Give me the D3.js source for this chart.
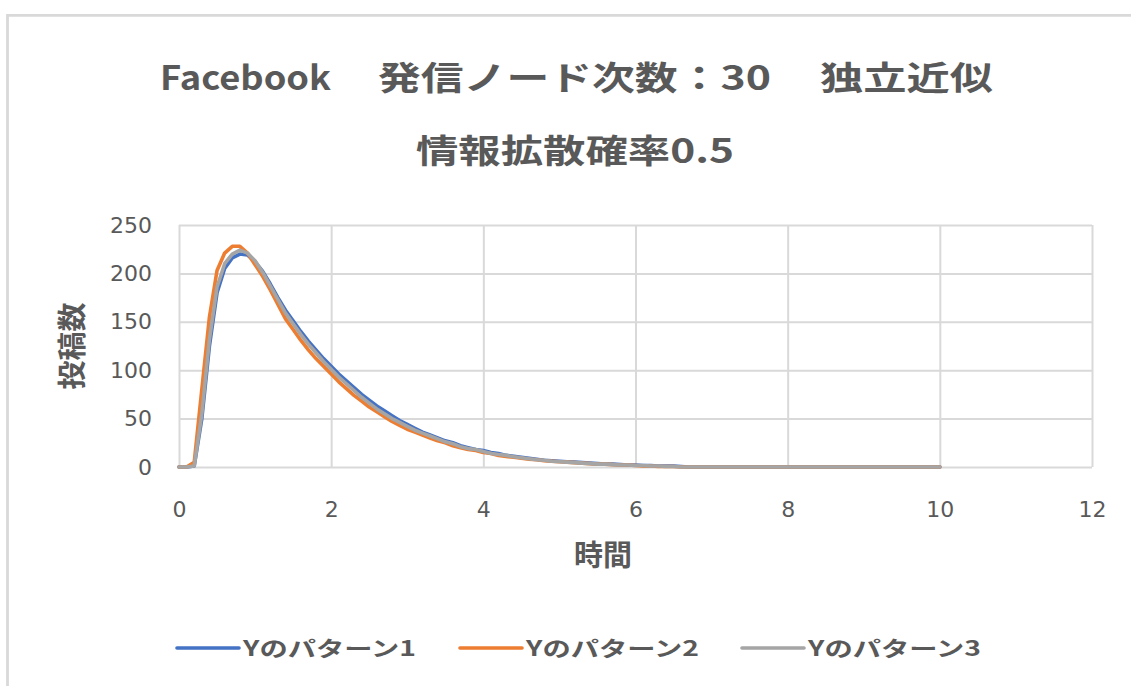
<!DOCTYPE html>
<html>
<head>
<meta charset="utf-8">
<script src="https://cdn.jsdelivr.net/npm/d3@7"></script>
<style>
  body { margin: 0; background: #fff; }
  svg { display: block; }
</style>
</head>
<body>
<svg id="chart"></svg>
<script>
// chart values (time step 0.1)
const times = [0,0.1,0.2,0.3,0.4,0.5,0.6,0.7,0.8,0.9,1,1.1,1.2,1.3,1.4,1.5,1.6,1.7,1.8,1.9,2,2.1,2.2,2.3,2.4,2.5,2.6,2.7,2.8,2.9,3,3.1,3.2,3.3,3.4,3.5,3.6,3.7,3.8,3.9,4,4.1,4.2,4.3,4.4,4.5,4.6,4.7,4.8,4.9,5,5.1,5.2,5.3,5.4,5.5,5.6,5.7,5.8,5.9,6,6.1,6.2,6.3,6.4,6.5,6.6,6.7,6.8,6.9,7,7.1,7.2,7.3,7.4,7.5,7.6,7.7,7.8,7.9,8,8.1,8.2,8.3,8.4,8.5,8.6,8.7,8.8,8.9,9,9.1,9.2,9.3,9.4,9.5,9.6,9.7,9.8,9.9,10];

const pattern1 = [0,0,1,50,125,180,205,216,220,219,212,202,189,175,162,151,140,130,121,112,104,96,89,82,75,69,63,58,53,48,44,40,36,33,30,27,25,22,20,18,17,15,14,12,11,10,9,8,7,6.5,6,5.5,5,4.5,4,3.5,3,3,2.5,2,2,1.5,1.5,1,1,1,0.5,0,0,0,0,0,0,0,0,0,0,0,0,0,0,0,0,0,0,0,0,0,0,0,0,0,0,0,0,0,0,0,0,0,0];
const pattern2 = [0,0,5,80,155,203,221,228,228,221,209,197,183,168,153,142,131,121,112,104,96,88,81,74,68,62,57,52,47,43,39,36,33,30,27,25,22,20,18,17,15,14,12,11,10,9,8,7.5,6.5,6,5.5,5,4.5,4,3.5,3,3,2.5,2,2,1.5,1,1,0.5,0.5,0.5,0,0,0,0,0,0,0,0,0,0,0,0,0,0,0,0,0,0,0,0,0,0,0,0,0,0,0,0,0,0,0,0,0,0,0];
const pattern3 = [0,0,1,55,132,186,210,220,224,221,213,201,187,173,159,148,137,127,118,109,101,93,86,79,72,66,60,55,50,46,42,38,35,32,29,26,24,21,19,18,16,14,13,12,10.5,9.5,8.5,7.5,7,6,5.5,5,4.5,4,3.5,3,3,2.5,2,2,1.5,1.5,1,1,0.5,0.5,0,0,0,0,0,0,0,0,0,0,0,0,0,0,0,0,0,0,0,0,0,0,0,0,0,0,0,0,0,0,0,0,0,0,0];

const seriesNames = ["Yのパターン1", "Yのパターン2", "Yのパターン3"];
const seriesColors = ["#4472C4", "#ED7D31", "#A5A5A5"];
const xTicks = [0, 2, 4, 6, 8, 10, 12];
const yTicks = [0, 50, 100, 150, 200, 250];

// title line 1 is "Facebook　発信ノード次数：30　独立近似", kept in its three words
const titleLine1Parts = ["Facebook", "発信ノード次数：30", "独立近似"];
const titleLine2 = "情報拡散確率0.5";
const xTitle = "時間";
const yTitle = "投稿数";

const width = 1131, height = 686;
const plot = { left: 179, right: 1092, top: 225, bottom: 467 };
const textColor = "#595959";
const gridColor = "#d9d9d9";
const cjk = "'Noto Sans CJK JP', sans-serif";

const svg = d3.select("#chart")
    .attr("width", width)
    .attr("height", height);

// outer frame (only top and left edges show in the picture)
svg.append("path")
    .attr("d", `M7.5,${height} V15.3 H${width}`)
    .attr("fill", "none")
    .attr("stroke", gridColor)
    .attr("stroke-width", 2.8);

const x = d3.scaleLinear().domain([0, 12]).range([plot.left, plot.right]);
const y = d3.scaleLinear().domain([0, 250]).range([plot.bottom, plot.top]);

// horizontal gridlines + y tick labels
const yAxis = svg.append("g")
    .attr("transform", `translate(${plot.left},0)`)
    .call(d3.axisLeft(y).tickValues(yTicks).tickSize(-(plot.right - plot.left)).tickPadding(27));
yAxis.select(".domain").remove();
yAxis.selectAll("line").attr("stroke", gridColor).attr("stroke-width", 2);
yAxis.selectAll("text")
    .attr("fill", textColor)
    .style("font-family", "'DejaVu Sans', sans-serif")
    .style("font-size", "22px");

// vertical gridlines + x tick labels
const xAxis = svg.append("g")
    .attr("transform", `translate(0,${plot.bottom})`)
    .call(d3.axisBottom(x).tickValues(xTicks).tickSize(-(plot.bottom - plot.top)).tickPadding(34));
xAxis.select(".domain").remove();
xAxis.selectAll("line").attr("stroke", gridColor).attr("stroke-width", 2);
xAxis.selectAll("text")
    .attr("fill", textColor)
    .style("font-family", "'DejaVu Sans', sans-serif")
    .style("font-size", "22px");

// series lines (drawn in order, grey ends up on top)
const seriesData = [pattern1, pattern2, pattern3];
const line = d3.line()
    .x((d, i) => x(times[i]))
    .y(d => y(d))
    .curve(d3.curveLinear);

svg.append("g")
    .selectAll("path")
    .data(seriesData)
    .join("path")
    .attr("fill", "none")
    .attr("stroke", (d, i) => seriesColors[i])
    .attr("stroke-width", 3.6)
    .attr("stroke-linejoin", "round")
    .attr("stroke-linecap", "round")
    .attr("d", line);

// titles
const titlePos = [[160, 171], [378, 393], [820, 173]];
svg.append("g")
    .selectAll("text")
    .data(titleLine1Parts)
    .join("text")
    .attr("x", (d, i) => titlePos[i][0]).attr("y", 90)
    .attr("textLength", (d, i) => titlePos[i][1]).attr("lengthAdjust", "spacingAndGlyphs")
    .attr("fill", textColor)
    .style("font-family", cjk).style("font-weight", "bold").style("font-size", "33px")
    .text(d => d);

svg.append("text")
    .attr("x", 416).attr("y", 163)
    .attr("textLength", 318).attr("lengthAdjust", "spacingAndGlyphs")
    .attr("fill", textColor)
    .style("font-family", cjk).style("font-weight", "bold").style("font-size", "33px")
    .text(titleLine2);

// axis titles
svg.append("text")
    .attr("x", 603).attr("y", 566)
    .attr("text-anchor", "middle")
    .attr("fill", textColor)
    .style("font-family", cjk).style("font-weight", "bold").style("font-size", "29px")
    .text(xTitle);

svg.append("text")
    .attr("transform", "translate(83,346) rotate(-90)")
    .attr("text-anchor", "middle")
    .attr("fill", textColor)
    .style("font-family", cjk).style("font-weight", "bold").style("font-size", "29px")
    .text(yTitle);

// legend
const legendX = [177, 460, 742];
const legend = svg.append("g")
    .selectAll("g")
    .data(seriesNames)
    .join("g")
    .attr("transform", (d, i) => `translate(${legendX[i]},648)`);

legend.append("line")
    .attr("x1", 0).attr("x2", 62)
    .attr("stroke", (d, i) => seriesColors[i])
    .attr("stroke-width", 3.6)
    .attr("stroke-linecap", "round");

legend.append("text")
    .attr("x", 66).attr("y", 8)
    .attr("textLength", 173).attr("lengthAdjust", "spacingAndGlyphs")
    .attr("fill", textColor)
    .style("font-family", cjk).style("font-weight", "bold").style("font-size", "21px")
    .text(d => d);
</script>
</body>
</html>
